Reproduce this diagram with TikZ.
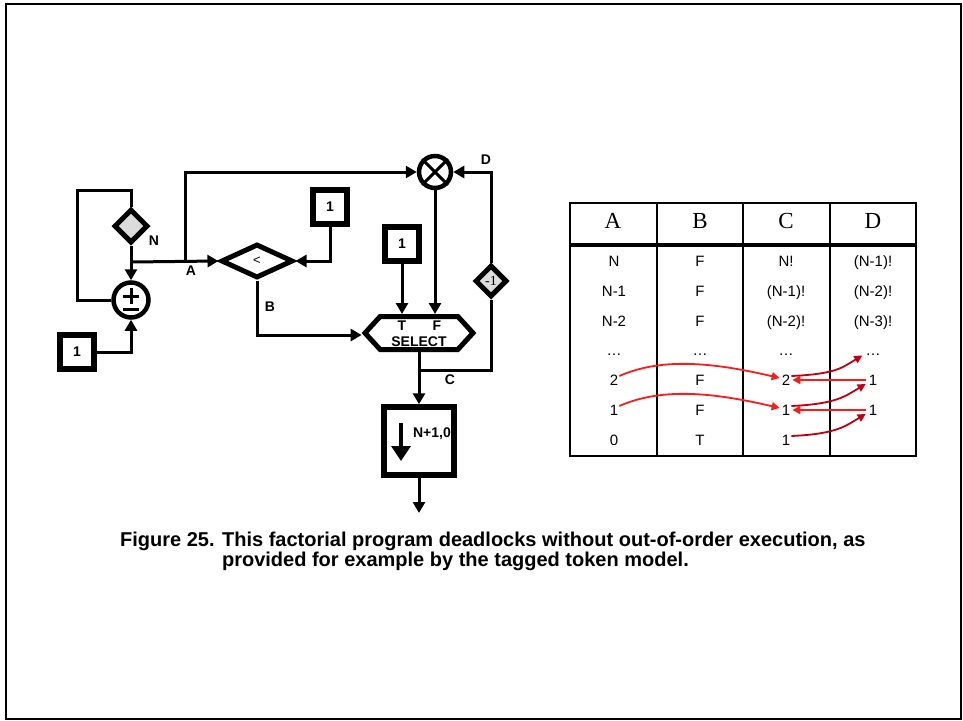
\documentclass[tikz,border=0pt]{standalone}
\usepackage{fontspec}
\setmainfont{Liberation Sans}
\newfontfamily\seriffont{Liberation Serif}
\usetikzlibrary{arrows.meta,positioning,calc,shapes.geometric,shapes.symbols}
\definecolor{tokred}{HTML}{FF1A1A}
\definecolor{tokdark}{HTML}{C00010}
\definecolor{gategray}{HTML}{DCDCDC}
\tikzset{
  wire/.style={line width=3pt},
  flow/.style={wire, -{Triangle[length=11pt,width=12pt]}},
  constBox/.style={draw, line width=5.5pt, minimum size=34pt, inner sep=0pt, font=\bfseries\fontsize{14}{14}\selectfont},
  gate/.style={draw, diamond, line width=5pt, inner sep=0pt, aspect=1},
  opCircle/.style={draw, circle, line width=4.5pt, inner sep=0pt},
  portLabel/.style={font=\bfseries\fontsize{14}{14}\selectfont, inner sep=0pt},
  cellText/.style={font=\fontsize{15}{15}\selectfont, anchor=base, inner sep=1pt},
  headText/.style={font=\seriffont\fontsize{23}{23}\selectfont, anchor=base, inner sep=1pt},
  tokArrow/.style={line width=1.8pt, -{Triangle[length=8pt,width=8pt]}},
  captionText/.style={font=\bfseries\fontsize{20}{20}\selectfont, anchor=base west, inner sep=0pt}
}

\begin{document}
\begin{tikzpicture}[x=1pt,y=-1pt]
  \useasboundingbox (0,0) rectangle (963,720);
  \draw[line width=2pt] (5.5,3.5) rectangle (961,718.5);

  % merge loop on the left
  \node[gate, fill=gategray, minimum size=34pt] (nGate) at (131,226) {};
  \node[portLabel] (nLab) at (154,241) {N};
  \node[opCircle, minimum size=35pt] (sum) at (131,300) {};
  \draw[line width=3pt] ($(sum)+(-8,-4)$) -- ($(sum)+(8,-4)$)
                        ($(sum)+(0,-12)$) -- ($(sum)+(0,4)$)
                        ($(sum)+(-8,9)$) -- ($(sum)+(8,9)$);
  \node[constBox] (oneA) at (77,352) {1};
  \coordinate (loopTL) at (77,190);
  \coordinate (jA) at (131,262);
  \coordinate (jUp) at (185,262);
  \draw[wire] (sum.west) -| (loopTL) -| (nGate.north);
  \draw[flow] (nGate.south) -- (sum.north);
  \draw[flow] (oneA.east) -| (sum.south);

  % compare and multiply
  \node[gate, minimum width=72pt, minimum height=34pt, font=\fontsize{13}{13}\selectfont] (ltGate) at (257,261) {<};
  \node[constBox] (oneB) at (330,207) {1};
  \node[opCircle, minimum size=32pt] (mul) at (435,172) {};
  \draw[line width=3pt] (mul.45) -- (mul.225) (mul.135) -- (mul.-45);
  \node[constBox] (oneC) at (402,244) {1};
  \node[draw, signal, signal to=east and west, signal pointer angle=95, line width=5pt,
        minimum width=108pt, minimum height=33pt, inner sep=0pt] (sel) at (419,333) {};
  \node[portLabel] (selLab) at (419,342) {SELECT};
  \node[portLabel] (tLab) at (402,326) {T};
  \node[portLabel] (fLab) at (437,326) {F};
  \node[gate, fill=gategray, minimum size=32pt, font=\seriffont\fontsize{14}{14}\selectfont] (decGate) at (491,281) {-1};

  \draw[flow] (jA) -- (ltGate.west);
  \draw[flow] (jUp) |- (mul.west);
  \node[portLabel] (aLab) at (191,271) {A};
  \draw[flow] (oneB.south) |- (ltGate.east);
  \draw[flow] (ltGate.south) |- ($(sel.west)+(0,2)$);
  \node[portLabel] (bLab) at (270,307) {B};
  \draw[flow] (oneC.south) -- (oneC.south |- sel.north);
  \draw[flow] (mul.south) -- (mul.south |- sel.north);

  % duplicate and feedback
  \node[draw, line width=5.5pt, minimum width=70pt, minimum height=68pt] (dup) at (419,441) {};
  \draw[line width=3.5pt, -{Triangle[length=15pt,width=19pt]}] ($(dup)+(-18,-18)$) -- ($(dup)+(-18,20)$);
  \node[portLabel] (dupLab) at ($(dup)+(13,-7)$) {N+1,0};
  \coordinate (jC) at (419,370);
  \coordinate (outEnd) at (419,513);
  \draw[flow] (sel.south) -- (dup.north);
  \draw[wire] (jC) -| (decGate.south);
  \draw[flow] (decGate.north) |- (mul.east);
  \node[portLabel] (cLab) at (450,380) {C};
  \node[portLabel] (dLab) at (486,160) {D};
  \draw[flow] (dup.south) -- (outEnd);

  % token table
  \draw[line width=2.6pt] (570,203) rectangle (916,456);
  \draw[line width=2.6pt] (657,203) -- (657,456) (743,203) -- (743,456) (830,203) -- (830,456);
  \draw[line width=4.5pt] (570,245) -- (916,245);
  \foreach \col/\x in {A/613,B/700,C/786,D/873}
    \node[headText] (h\col) at (\x,228) {\col};
  \foreach \r/\y/\ta/\tb/\tc/\td in {1/266/N/F/N!/(N-1)!, 2/296/N-1/F/(N-1)!/(N-2)!,
      3/326/N-2/F/(N-2)!/(N-3)!, 4/355.5/\ldots/\ldots/\ldots/\ldots, 5/385/2/F/2/1, 6/415/1/F/1/1}{
    \node[cellText] (a\r) at (614,\y) {\ta};
    \node[cellText] (b\r) at (700,\y) {\tb};
    \node[cellText] (c\r) at (786,\y) {\tc};
    \node[cellText] (d\r) at (873,\y) {\td};
  }
  \node[cellText] (a7) at (614,445) {0};
  \node[cellText] (b7) at (700,445) {T};
  \node[cellText] (c7) at (786,445) {1};

  % token flow
  \draw[tokArrow, tokred] ($(a5.base east)+(0,-9)$) .. controls +(45,-20) and +(-60,-14) .. ($(c5.base west)+(-1,-7)$);
  \draw[tokArrow, tokred] ($(a6.base east)+(0,-9)$) .. controls +(45,-20) and +(-60,-14) .. ($(c6.base west)+(-1,-7)$);
  \draw[tokArrow, tokdark] ($(c5.base east)+(0,-9)$) .. controls +(45,-2) and +(-20,12) .. ($(d4.base west)+(-2,0)$);
  \draw[tokArrow, tokdark] ($(c6.base east)+(0,-9)$) .. controls +(45,-2) and +(-20,12) .. ($(d5.base west)+(-2,-1)$);
  \draw[tokArrow, tokdark] ($(c7.base east)+(0,-9)$) .. controls +(45,-2) and +(-20,12) .. ($(d6.base west)+(-2,-1)$);
  \draw[tokArrow, tokred] ($(d5.base west)+(-2,-5)$) -- ($(c5.base east)+(1,-5)$);
  \draw[tokArrow, tokred] ($(d6.base west)+(-2,-5)$) -- ($(c6.base east)+(1,-5)$);

  % caption
  \node[captionText] (caption) at (120,546) {\begin{tabular}[t]{@{}l@{ }l@{}}Figure 25. & This factorial program deadlocks without out-of-order execution, as\\ & provided for example by the tagged token model.\end{tabular}};
\end{tikzpicture}
\end{document}
